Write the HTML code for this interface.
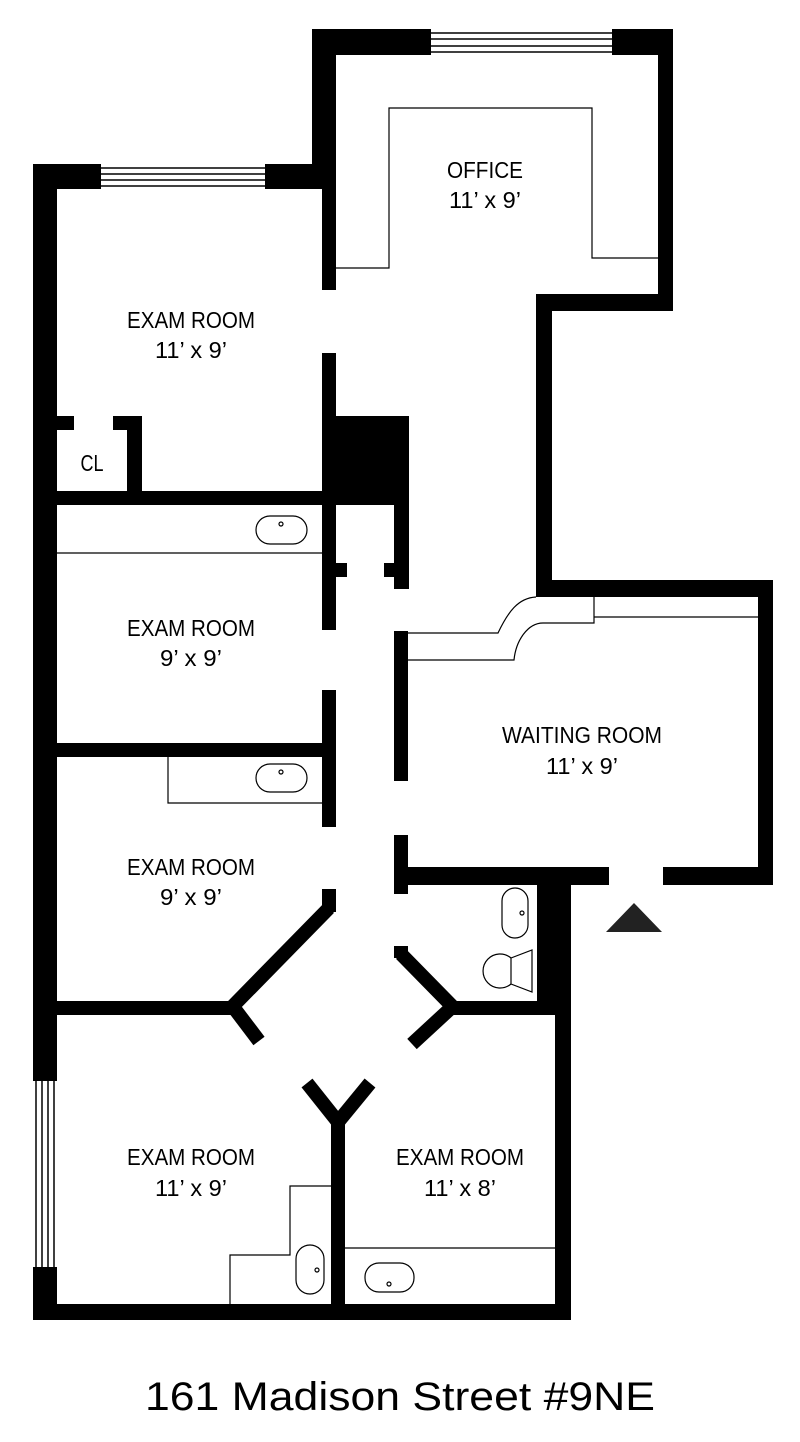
<!DOCTYPE html>
<html><head><meta charset="utf-8"><style>
html,body{margin:0;padding:0;background:#fff;}
svg{display:block;}
text{font-family:"Liberation Sans",sans-serif;fill:#000;}
</style></head><body>
<svg width="800" height="1442" viewBox="0 0 800 1442" xmlns="http://www.w3.org/2000/svg">
<g fill="#000">
<!-- Office -->
<rect x="312" y="29" width="119" height="26"/>
<rect x="612" y="29" width="61" height="26"/>
<rect x="312" y="29" width="24" height="160"/>
<rect x="658" y="29" width="15" height="282"/>
<rect x="536" y="294" width="137" height="17"/>
<rect x="536" y="294" width="16" height="300"/>
<!-- Exam1 -->
<rect x="33" y="164" width="68" height="25"/>
<rect x="265" y="164" width="71" height="25"/>
<rect x="33" y="164" width="24" height="1156"/>
<rect x="322" y="164" width="14" height="126"/>
<rect x="322" y="353" width="14" height="277"/>
<rect x="336" y="416" width="73" height="89"/>
<rect x="33" y="491" width="303" height="14"/>
<rect x="57" y="416" width="17" height="14"/>
<rect x="113" y="416" width="29" height="14"/>
<rect x="127" y="416" width="15" height="89"/>
<!-- hall nubs -->
<rect x="336" y="563" width="11" height="14"/>
<rect x="384" y="563" width="25" height="14"/>
<rect x="394" y="505" width="15" height="84"/>
<!-- waiting -->
<rect x="536" y="580" width="237" height="17"/>
<rect x="758" y="580" width="15" height="305"/>
<rect x="663" y="867" width="110" height="18"/>
<rect x="394" y="867" width="215" height="18"/>
<rect x="394" y="631" width="14" height="150"/>
<rect x="394" y="835" width="14" height="59"/>
<!-- exam2/3 -->
<rect x="322" y="690" width="14" height="137"/>
<rect x="33" y="743" width="303" height="14"/>
<rect x="322" y="889" width="14" height="23"/>
<rect x="33" y="1001" width="203" height="14"/>
<!-- bathroom -->
<rect x="537" y="884" width="32" height="117"/>
<rect x="555" y="884" width="16" height="436"/>
<rect x="394" y="946" width="14" height="12"/>
<rect x="449" y="1001" width="120" height="14"/>
<!-- bottom -->
<rect x="33" y="1304" width="538" height="16"/>
<rect x="331" y="1118" width="14" height="200"/>
</g>
<g stroke="#000" stroke-width="14" stroke-linecap="butt" fill="none">
<line x1="329" y1="908" x2="233" y2="1006"/>
<line x1="234" y1="1008" x2="259" y2="1041"/>
<line x1="401" y1="954" x2="452" y2="1006"/>
<line x1="451" y1="1008" x2="412" y2="1044"/>
<line x1="338" y1="1122" x2="307" y2="1083"/>
<line x1="338" y1="1122" x2="370" y2="1083"/>
</g>
<!-- windows -->
<g stroke="#000" stroke-width="1.5">
<line x1="431" y1="33" x2="612" y2="33"/><line x1="431" y1="39" x2="612" y2="39"/><line x1="431" y1="46" x2="612" y2="46"/><line x1="431" y1="52" x2="612" y2="52"/>
<line x1="101" y1="168" x2="265" y2="168"/><line x1="101" y1="174" x2="265" y2="174"/><line x1="101" y1="180" x2="265" y2="180"/><line x1="101" y1="186" x2="265" y2="186"/>
</g>
<rect x="33" y="1081" width="24" height="186" fill="#fff"/>
<g stroke="#000" stroke-width="1.5">
<line x1="36" y1="1081" x2="36" y2="1267"/><line x1="42" y1="1081" x2="42" y2="1267"/><line x1="48" y1="1081" x2="48" y2="1267"/><line x1="54" y1="1081" x2="54" y2="1267"/>
</g>
<!-- thin lines / fixtures -->
<g stroke="#000" stroke-width="1.2" fill="none">
<polyline points="336,268 389,268 389,108 592,108 592,258 658,258"/>
<line x1="57" y1="553" x2="322" y2="553"/>
<rect x="256" y="516" width="51" height="28" rx="14"/>
<circle cx="281" cy="524" r="2"/>
<polyline points="168,757 168,803 322,803"/>
<rect x="256" y="764" width="51" height="28" rx="14"/>
<circle cx="281" cy="772" r="2"/>
<path d="M408,633 L498,633 C508,612 518,598 536,597"/>
<path d="M408,660 L514,660 C516,640 528,623 543,623 L594,623 L594,597"/>
<line x1="594" y1="617" x2="758" y2="617"/>
<rect x="502" y="888" width="26" height="50" rx="13"/>
<circle cx="522" cy="913" r="2"/>
<path d="M511,958 A17,17 0 1 0 511,984"/>
<polygon points="511,958 532,950 532,992 511,984"/>
<polyline points="331,1186 290,1186 290,1255 230,1255 230,1304"/>
<rect x="296" y="1245" width="28" height="49" rx="14"/>
<circle cx="317" cy="1270" r="2"/>
<line x1="345" y1="1248" x2="555" y2="1248"/>
<rect x="365" y="1263" width="49" height="29" rx="14"/>
<circle cx="389" cy="1284" r="2"/>
</g>
<polygon points="606,932 662,932 634,903" fill="#222"/>
<!-- labels -->
<g font-size="23" text-anchor="middle">
<text x="485" y="178" textLength="76" lengthAdjust="spacingAndGlyphs">OFFICE</text>
<text x="485" y="208" textLength="72" lengthAdjust="spacingAndGlyphs">11’ x 9’</text>
<text x="191" y="328" textLength="128" lengthAdjust="spacingAndGlyphs">EXAM ROOM</text>
<text x="191" y="358" textLength="72" lengthAdjust="spacingAndGlyphs">11’ x 9’</text>
<text x="92" y="471" textLength="23" lengthAdjust="spacingAndGlyphs">CL</text>
<text x="191" y="636" textLength="128" lengthAdjust="spacingAndGlyphs">EXAM ROOM</text>
<text x="191" y="666" textLength="62" lengthAdjust="spacingAndGlyphs">9’ x 9’</text>
<text x="582" y="743" textLength="160" lengthAdjust="spacingAndGlyphs">WAITING ROOM</text>
<text x="582" y="774" textLength="72" lengthAdjust="spacingAndGlyphs">11’ x 9’</text>
<text x="191" y="875" textLength="128" lengthAdjust="spacingAndGlyphs">EXAM ROOM</text>
<text x="191" y="905" textLength="62" lengthAdjust="spacingAndGlyphs">9’ x 9’</text>
<text x="191" y="1165" textLength="128" lengthAdjust="spacingAndGlyphs">EXAM ROOM</text>
<text x="191" y="1196" textLength="72" lengthAdjust="spacingAndGlyphs">11’ x 9’</text>
<text x="460" y="1165" textLength="128" lengthAdjust="spacingAndGlyphs">EXAM ROOM</text>
<text x="460" y="1196" textLength="72" lengthAdjust="spacingAndGlyphs">11’ x 8’</text>
</g>
<text x="400" y="1410" font-size="40" text-anchor="middle" textLength="510" lengthAdjust="spacingAndGlyphs">161 Madison Street #9NE</text>
</svg>
</body></html>
